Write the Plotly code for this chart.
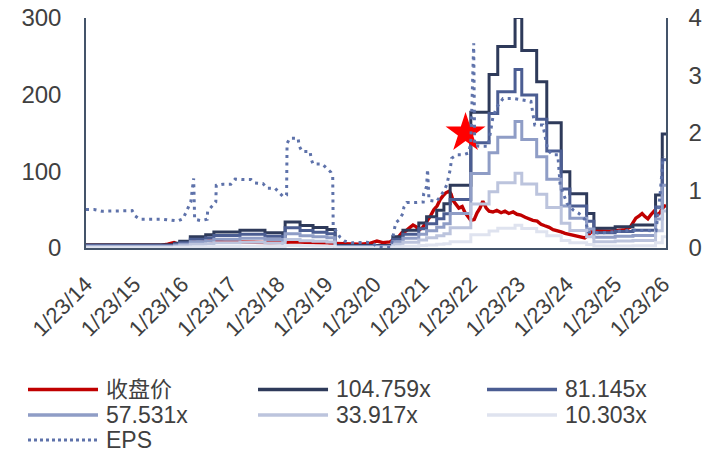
import plotly.graph_objects as go
from datetime import datetime, timedelta


def to_date(y):
    """Decimal year -> datetime."""
    base = datetime(int(y), 1, 1)
    return base + timedelta(days=(y - int(y)) * 365.25)


# ---- closing price (left axis) ----
price_t = [2014.06, 2014.56, 2015.18, 2015.60, 2015.76, 2015.89, 2015.97, 2016.14, 2016.26, 2016.37,
           2016.47, 2016.60, 2016.74, 2016.95, 2017.26, 2017.57, 2017.89, 2018.20, 2018.41, 2018.72,
           2019.03, 2019.24, 2019.44, 2019.76, 2019.96, 2020.11, 2020.23, 2020.38, 2020.46, 2020.55,
           2020.63, 2020.71, 2020.78, 2020.86, 2020.92, 2020.98, 2021.05, 2021.11, 2021.17, 2021.23,
           2021.29, 2021.36, 2021.42, 2021.48, 2021.54, 2021.61, 2021.65, 2021.69, 2021.75, 2021.81,
           2021.88, 2021.94, 2022.00, 2022.06, 2022.13, 2022.19, 2022.25, 2022.31, 2022.38, 2022.44,
           2022.52, 2022.60, 2022.69, 2022.77, 2022.85, 2022.94, 2023.02, 2023.10, 2023.19, 2023.27,
           2023.35, 2023.44, 2023.52, 2023.60, 2023.69, 2023.77, 2023.85, 2023.94, 2024.02, 2024.10,
           2024.18, 2024.27, 2024.35, 2024.43, 2024.50, 2024.58, 2024.66, 2024.75, 2024.85, 2024.95,
           2025.06, 2025.16, 2025.27, 2025.37, 2025.43, 2025.49, 2025.56, 2025.62, 2025.68, 2025.74,
           2025.81, 2025.87, 2025.93, 2025.99, 2026.06, 2026.12]
price_v = [3.5, 3.5, 3, 3.5, 5, 7, 5, 6, 10, 12.5,
           12, 10, 9, 8, 8, 7, 7, 7.5, 8, 7,
           6.5, 6, 5, 5, 6, 9, 7, 8, 11, 14,
           20, 22, 26, 30, 28, 24, 26, 31, 37, 43,
           50, 55, 63, 68, 72, 74, 70, 62, 56, 52,
           54, 46, 41, 36, 37, 46, 52, 61, 52, 48,
           47, 49, 46, 48, 45, 47, 44, 43, 40, 38,
           36, 35, 31, 29, 27, 24, 23, 21, 19, 18,
           16, 15, 14, 13, 16.5, 22, 22.5, 22, 21.5, 22,
           22.5, 23, 24, 27, 33, 39, 42, 45, 41, 38,
           44, 48, 43, 46, 53, 56]

# ---- EPS (right axis) ----
eps_t = [2014.06, 2014.23, 2014.39, 2014.70, 2014.85, 2015.02, 2015.08, 2015.18, 2015.66, 2015.83,
         2015.97, 2016.08, 2016.16, 2016.24, 2016.30, 2016.32, 2016.45, 2016.58, 2016.59, 2016.76,
         2016.77, 2016.91, 2017.07, 2017.16, 2017.32, 2017.49, 2017.57, 2017.74, 2017.82, 2017.99,
         2018.16, 2018.23, 2018.24, 2018.30, 2018.47, 2018.49, 2018.55, 2018.72, 2018.74, 2018.78,
         2018.97, 2019.05, 2019.15, 2019.19, 2019.20, 2019.34, 2019.44, 2019.59, 2019.74, 2019.90,
         2020.03, 2020.11, 2020.23, 2020.40, 2020.44, 2020.50, 2020.57, 2020.65, 2020.67, 2020.73,
         2020.90, 2021.07, 2021.08, 2021.14, 2021.16, 2021.19, 2021.35, 2021.49, 2021.56, 2021.63,
         2021.66, 2021.77, 2021.90, 2022.01, 2022.06, 2022.12, 2022.14, 2022.25, 2022.42, 2022.52,
         2022.60, 2022.73, 2022.94, 2023.08, 2023.22, 2023.31, 2023.39, 2023.56, 2023.66, 2023.77,
         2023.87, 2023.92, 2023.96, 2024.06, 2024.19, 2024.31, 2024.44, 2024.50, 2024.75, 2025.06,
         2025.37, 2025.91, 2025.99, 2026.06]
eps_v = [0.67, 0.67, 0.64, 0.64, 0.65, 0.65, 0.56, 0.50, 0.50, 0.48,
         0.47, 0.51, 0.66, 0.80, 1.21, 0.50, 0.475, 0.50, 0.64, 0.80,
         1.09, 1.11, 1.11, 1.20, 1.19, 1.19, 1.13, 1.12, 1.04, 1.04,
         0.89, 0.92, 1.82, 1.91, 1.91, 1.78, 1.68, 1.68, 1.55, 1.46,
         1.46, 1.39, 1.32, 1.24, 0.37, 0.19, 0.12, 0.09, 0.10, 0.10,
         0.08, 0.02, 0.01, 0.01, 0.19, 0.44, 0.49, 0.60, 0.71, 0.79,
         0.79, 0.80, 0.95, 1.07, 1.37, 0.83, 0.81, 0.98, 1.10, 1.36,
         1.56, 1.62, 1.62, 1.65, 1.82, 3.56, 1.78, 1.77, 1.77, 2.28,
         2.45, 2.60, 2.60, 2.58, 2.56, 2.55, 2.14, 2.14, 1.70, 1.62,
         1.62, 1.07, 1.00, 0.78, 0.66, 0.60, 0.49, 0.28, 0.26, 0.28,
         0.31, 0.30, 0.89, 1.59]

# ---- EPS basis used for the PE bands (step series) ----
band_t = [2014.06, 2015.90, 2016.01, 2016.23, 2016.55, 2016.72, 2017.26, 2017.78, 2018.15, 2018.20,
          2018.51, 2018.78, 2019.07, 2019.24, 2020.44, 2020.65, 2020.98, 2021.14, 2021.35, 2021.50,
          2021.63, 2022.06, 2022.44, 2022.62, 2022.98, 2023.12, 2023.43, 2023.64, 2023.94, 2024.12,
          2024.47, 2024.62, 2025.06, 2025.43, 2025.90, 2026.04, 2026.12]
band_eps = [0.04, 0.06, 0.085, 0.14, 0.165, 0.20, 0.22, 0.19, 0.165, 0.325,
            0.28, 0.255, 0.23, 0.03, 0.14, 0.22, 0.31, 0.39, 0.47, 0.55,
            0.78, 1.69, 2.16, 2.51, 2.87, 2.46, 2.07, 1.56, 0.95, 0.675,
            0.43, 0.245, 0.265, 0.285, 0.66, 1.42, 1.42]

pe_multiples = [104.759, 81.145, 57.531, 33.917, 10.303]
pe_labels = ["104.759x", "81.145x", "57.531x", "33.917x", "10.303x"]
pe_colors = ["#2E3A5A", "#4B5D92", "#8F9DC6", "#BCC4DD", "#DFE3EF"]

price_label = "收盘价"
eps_label = "EPS"
price_color = "#C00000"
eps_color = "#5E72AA"

# highlighted point
star_t = [2021.95]
star_v = [150]

x_start = datetime(2014, 1, 23)
x_end = datetime(2026, 2, 13)

fig = go.Figure()

fig.add_trace(go.Scatter(
    x=[to_date(t) for t in price_t], y=price_v, mode="lines",
    line=dict(color=price_color, width=3.4), name=price_label, yaxis="y"))

band_x = [to_date(t) for t in band_t]
for m, lab, col in zip(pe_multiples, pe_labels, pe_colors):
    fig.add_trace(go.Scatter(
        x=band_x, y=[e * m for e in band_eps], mode="lines",
        line=dict(color=col, width=3, shape="hv"), name=lab, yaxis="y"))

fig.add_trace(go.Scatter(
    x=[to_date(t) for t in eps_t], y=eps_v, mode="lines",
    line=dict(color=eps_color, width=3, dash="3px,4.5px"), name=eps_label, yaxis="y2"))

fig.add_trace(go.Scatter(
    x=[to_date(t) for t in star_t], y=star_v, mode="markers",
    marker=dict(symbol="star", size=30, color="#FF0000", line=dict(width=0)),
    yaxis="y", showlegend=False))

axis_col = "#44546A"
tick_font = dict(family="Liberation Sans, Arial, sans-serif", size=24, color="#404040")

fig.update_layout(
    width=716, height=454,
    margin=dict(l=86, r=50, t=18, b=206, autoexpand=False),
    paper_bgcolor="white", plot_bgcolor="white",
    showlegend=False,
    xaxis=dict(
        type="date", range=[x_start, x_end], automargin=False,
        tick0="2014-01-23", dtick="M12", tickformat="%-m/%d/%y",
        tickangle=-45, tickfont=dict(family="Liberation Sans, Arial, sans-serif", size=22, color="#404040"),
        ticklabelstandoff=13,
        showline=True, linecolor=axis_col, linewidth=1.5,
        showgrid=False, zeroline=False, ticks=""),
    yaxis=dict(
        range=[0, 300], dtick=100, tickfont=tick_font, automargin=False,
        showline=True, linecolor=axis_col, linewidth=1.5,
        showgrid=False, zeroline=False, ticks="", ticklabelstandoff=18),
    yaxis2=dict(
        range=[0, 4], dtick=1, tickfont=tick_font, overlaying="y", side="right", automargin=False,
        showline=True, linecolor=axis_col, linewidth=1.5,
        showgrid=False, zeroline=False, ticks="", ticklabelstandoff=16),
)

# legend drawn as line samples + text, three columns
legend_items = [
    (price_label, price_color, "solid"),
    (pe_labels[0], pe_colors[0], "solid"),
    (pe_labels[1], pe_colors[1], "solid"),
    (pe_labels[2], pe_colors[2], "solid"),
    (pe_labels[3], pe_colors[3], "solid"),
    (pe_labels[4], pe_colors[4], "solid"),
    (eps_label, eps_color, "dot"),
]
col_x = [-0.10, 0.2966, 0.6914]
row_y = [-0.615, -0.726, -0.835]
seg = 0.1207
gap = 0.0110
for i, (lab, col, dash) in enumerate(legend_items):
    cx = col_x[i % 3]
    ry = row_y[i // 3]
    size = 22 if lab == price_label else 23
    fig.add_shape(type="line", xref="paper", yref="paper",
                  x0=cx, x1=cx + seg, y0=ry, y1=ry,
                  line=dict(color=col, width=3.5 if dash == "solid" else 3, dash=dash))
    fig.add_annotation(xref="paper", yref="paper", x=cx + seg + gap, y=ry,
                       text=lab, showarrow=False, xanchor="left", yanchor="middle",
                       font=dict(family="Liberation Sans, Noto Sans CJK SC, sans-serif",
                                 size=size, color="#404040"))

fig.write_html("out.html")
